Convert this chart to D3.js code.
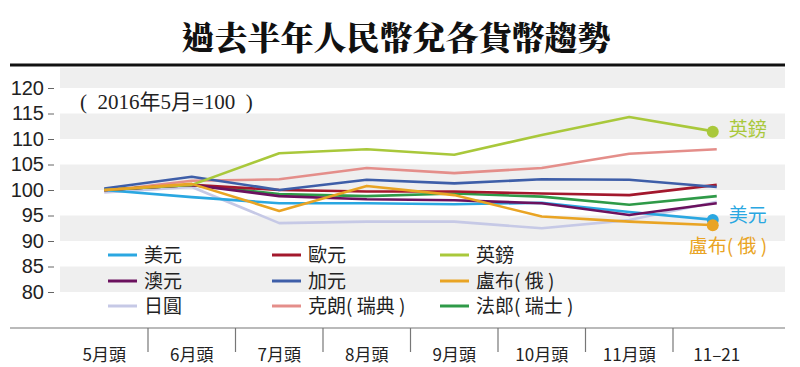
<!DOCTYPE html>
<html><head><meta charset="utf-8">
<script src="https://cdn.jsdelivr.net/npm/d3@7"></script>
<style>body{margin:0;background:#fff}svg{display:block}</style>
</head><body>
<svg id="c" width="800" height="367"></svg>
<script>
const categories = ["5月頭","6月頭","7月頭","8月頭","9月頭","10月頭","11月頭","11–21"];
const yTicks = [80,85,90,95,100,105,110,115,120];
const bands = [[80,85],[90,95],[100,105],[110,115],[120,124]];
const usd = [100,98.6,97.4,97.4,97.2,97.5,95.7,94.1];
const eur = [100,101,100,99.7,99.7,99.3,99,101];
const gbp = [100,101,107.2,108,106.9,110.8,114.3,111.4];
const aud = [100,101,98.8,98.2,98,97.4,95.1,97.4];
const cad = [100.3,102.6,100,102,101.3,102.1,102,100.6];
const rub = [100,101.2,95.9,100.8,99,94.8,93.8,93.1];
const jpy = [99.5,100.6,93.5,93.8,93.8,92.5,94.1,97.7];
const sek = [99.8,101.8,102.1,104.3,103.3,104.3,107.1,108];
const chf = [100,101,99.2,98.8,99.3,98.7,97.1,98.8];

const series = [
  {name:"日圓", values:jpy, color:"#c6c9e6"},
  {name:"克朗(瑞典)", values:sek, color:"#e48e8a"},
  {name:"法郎(瑞士)", values:chf, color:"#2f9a48"},
  {name:"美元", values:usd, color:"#2aa7e1"},
  {name:"歐元", values:eur, color:"#a3182d"},
  {name:"澳元", values:aud, color:"#6b115e"},
  {name:"加元", values:cad, color:"#3e5ea8"},
  {name:"英鎊", values:gbp, color:"#a9c83b"},
  {name:"盧布(俄)", values:rub, color:"#e9a424"}
];
const legendOrder = ["美元","歐元","英鎊","澳元","加元","盧布(俄)","日圓","克朗(瑞典)","法郎(瑞士)"];
const endLabels = [
  {name:"英鎊", text:"英鎊", dx:16, dy:-3},
  {name:"美元", text:"美元", dx:16, dy:-5},
  {name:"盧布(俄)", text:"盧布( 俄 )", dx:-24, dy:21}
];

const svg = d3.select("#c");
const x = d3.scaleBand().domain(categories).range([60.5, 760.5]);
const y = d3.scaleLinear().domain([80, 120]).range([292, 88]);
const sans = "'Liberation Sans', Arial, 'Noto Sans CJK TC', sans-serif";
const cjk = "'Noto Sans CJK TC', 'Liberation Sans', sans-serif";

// title
svg.append("text").attr("x", 396).attr("y", 50).attr("text-anchor","middle")
  .attr("font-family", "'Noto Serif CJK TC','Noto Sans CJK TC', serif").attr("font-weight", 900)
  .attr("font-size", 33).attr("fill","#111").text("過去半年人民幣兌各貨幣趨勢");
svg.append("line").attr("x1",10).attr("x2",785).attr("y1",65).attr("y2",65)
  .attr("stroke","#111").attr("stroke-width",3);

// bands
svg.append("g").selectAll("rect").data(bands).join("rect")
  .attr("x", 60).attr("width", 725)
  .attr("y", d => y(d[1])).attr("height", d => y(d[0]) - y(d[1]))
  .attr("fill", "#efefef");

// y axis
const ya = svg.append("g").attr("transform","translate(54,0)")
  .call(d3.axisLeft(y).tickValues(yTicks).tickSize(6).tickPadding(4));
ya.select(".domain").remove();
ya.selectAll(".tick line").attr("stroke","#666");
ya.selectAll("text").attr("font-family", sans).attr("font-size", 20).attr("fill","#222");

// subtitle
svg.append("text").attr("x", 80).attr("y", 109).attr("font-family","'Liberation Serif','Noto Sans CJK TC',serif")
  .style("white-space","pre")
  .attr("font-size", 21).attr("fill","#222").text("(  2016年5月=100  )");

// x axis
const xa = svg.append("g").attr("transform","translate(0,328)")
  .call(d3.axisBottom(x).tickSize(0).tickPadding(21));
xa.select(".domain").remove();
svg.append("line").attr("x1",10).attr("x2",785).attr("y1",328).attr("y2",328).attr("stroke","#777").attr("stroke-width",1.2);
xa.selectAll("text").attr("font-family", cjk).attr("font-size", 17).attr("fill","#222");
svg.append("g").selectAll("line").data(categories.slice(1)).join("line")
  .attr("x1", d => x(d)).attr("x2", d => x(d)).attr("y1", 328).attr("y2", 352)
  .attr("stroke","#777").attr("stroke-width",1.2);

// lines
const line = d3.line().x((d,i) => x(categories[i]) + x.bandwidth()/2).y(d => y(d));
svg.append("g").selectAll("path").data(series).join("path")
  .attr("d", d => line(d.values)).attr("fill","none")
  .attr("stroke", d => d.color).attr("stroke-width", 2.6).attr("stroke-linejoin","round");

// end dots & labels
const last = categories[categories.length-1];
endLabels.forEach(l => {
  const s = series.find(d => d.name === l.name);
  const v = s.values[s.values.length-1];
  const cx = x(last) + x.bandwidth()/2 - 4, cy = y(v);
  svg.append("circle").attr("cx", cx).attr("cy", cy).attr("r", 6).attr("fill", s.color);
  svg.append("text").attr("x", cx + l.dx).attr("y", cy + l.dy + 7)
    .attr("font-family", cjk).attr("font-size", 19).attr("fill", s.color).text(l.text);
});

// legend
const colX = [108, 272, 440], rowY = [255, 281, 306];
legendOrder.forEach((n, i) => {
  const s = series.find(d => d.name === n);
  const lx = colX[i % 3], ly = rowY[Math.floor(i / 3)];
  svg.append("line").attr("x1", lx).attr("x2", lx + 29).attr("y1", ly).attr("y2", ly)
    .attr("stroke", s.color).attr("stroke-width", 3);
  svg.append("text").attr("x", lx + 36).attr("y", ly + 7).attr("font-family", cjk)
    .attr("font-size", 19).attr("fill","#222").text(n.replace("(", "( ").replace(")", " )"));
});
</script>
</body></html>
